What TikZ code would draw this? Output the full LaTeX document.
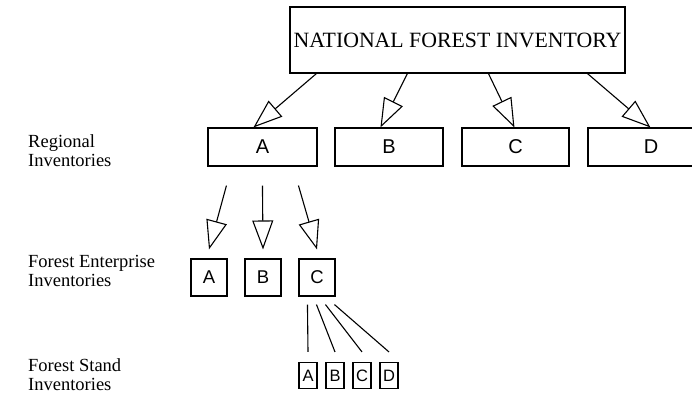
\documentclass[tikz,border=0pt]{standalone}
\usepackage{fontspec}
\setmainfont{Liberation Serif}
\newfontfamily\arialf{Liberation Sans}
\usetikzlibrary{arrows.meta}
\begin{document}
\begin{tikzpicture}[x=1pt,y=-1pt,
  box/.style={draw,line width=1.1pt,inner sep=0pt,font=\arialf\fontsize{20}{20}\selectfont},
  ebox/.style={box,minimum width=36pt,minimum height=37pt,font=\arialf\fontsize{18.5}{18.5}\selectfont},
  sbox/.style={box,minimum width=18pt,minimum height=26pt,font=\arialf\fontsize{16.5}{16.5}\selectfont},
  lvl/.style={anchor=north west,align=left,inner sep=0pt,font=\fontsize{18.5}{19}\selectfont},
  tri/.style={-{Triangle[open,length=29pt,width=21pt]},line width=1.1pt},
  conn/.style={line width=1.1pt}]
\useasboundingbox (0,0) rectangle (692,397);
\clip (0,0) rectangle (692,397);
% top
\node[box,minimum width=335pt,minimum height=66pt,font=\fontsize{21.8}{22}\selectfont] (nat) at (457.5,40) {NATIONAL FOREST INVENTORY};
% regional
\node[box,minimum width=109pt,minimum height=38pt] (ra) at (262.5,147) {A};
\node[box,minimum width=108pt,minimum height=38pt] (rb) at (389,147) {B};
\node[box,minimum width=107pt,minimum height=38pt] (rc) at (515.5,147) {C};
\node[box,minimum width=126pt,minimum height=38pt] (rd) at (651,147) {D};
% enterprise
\node[ebox] (ea) at (209,277.5) {A};
\node[ebox] (eb) at (263,277.5) {B};
\node[ebox] (ec) at (317,277.5) {C};
% stand
\node[sbox] (sa) at (308,375.5) {A};
\node[sbox] (sb) at (335,375.5) {B};
\node[sbox] (sc) at (362,375.5) {C};
\node[sbox] (sd) at (389,375.5) {D};
% level labels
\node[lvl] (l1) at (28,134) {Regional\\Inventories};
\node[lvl] (l2) at (28,255.5) {Forest Enterprise\\Inventories};
\node[lvl] (l3) at (28,358.5) {Forest Stand\\Inventories};
% arrows top -> regional
\draw[tri] ([xshift=27pt]nat.south west) -- ([xshift=46pt]ra.north west);
\draw[tri] ([xshift=118pt]nat.south west) -- ([xshift=46pt]rb.north west);
\draw[tri] ([xshift=199pt]nat.south west) -- ([xshift=53pt]rc.north west);
\draw[tri] ([xshift=298pt]nat.south west) -- ([xshift=63pt]rd.north west);
% arrows regional A -> enterprise
\draw[tri] ([xshift=19pt,yshift=-19pt]ra.south west) -- ([yshift=9pt]ea.north);
\draw[tri] ([xshift=55pt,yshift=-19pt]ra.south west) -- ([yshift=9pt]eb.north);
\draw[tri] ([xshift=91pt,yshift=-19pt]ra.south west) -- ([yshift=9pt]ec.north);
% lines enterprise C -> stand
\draw[conn] ([xshift=9pt,yshift=-8pt]ec.south west) -- ([yshift=10pt]sa.north);
\draw[conn] ([xshift=18pt,yshift=-8pt]ec.south west) -- ([yshift=10pt]sb.north);
\draw[conn] ([xshift=27pt,yshift=-8pt]ec.south west) -- ([yshift=10pt]sc.north);
\draw[conn] ([xshift=36pt,yshift=-8pt]ec.south west) -- ([yshift=10pt]sd.north);
\end{tikzpicture}
\end{document}
